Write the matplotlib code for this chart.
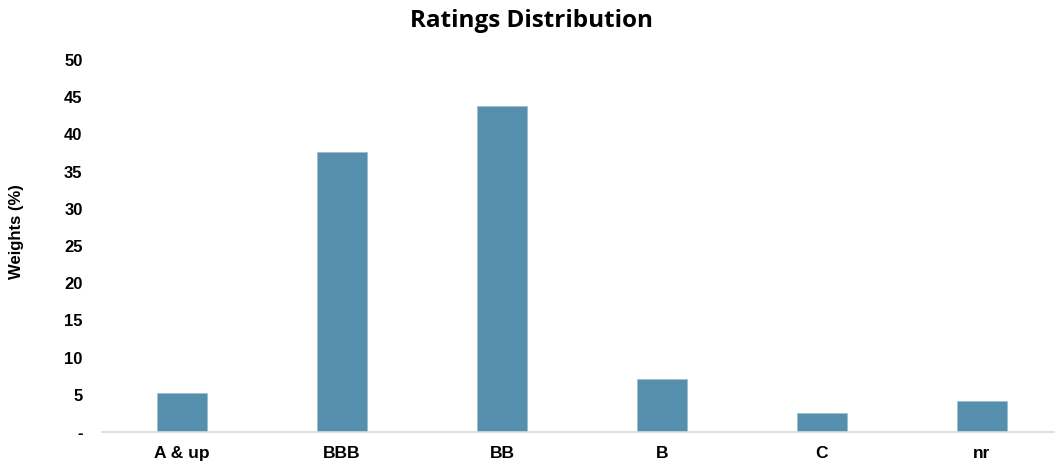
import matplotlib.pyplot as plt

ratings = ["A & up", "BBB", "BB", "B", "C", "nr"]
weights = [5.3, 37.6, 43.8, 7.1, 2.5, 4.1]
y_ticks = [0, 5, 10, 15, 20, 25, 30, 35, 40, 45, 50]
y_tick_labels = ["-", "5", "10", "15", "20", "25", "30", "35", "40", "45", "50"]

BAR_COLOR = "#568eae"


def main() -> None:
    fig = plt.figure(figsize=(10.55, 4.65), dpi=100)
    ax = fig.add_axes([102 / 1055, 33 / 465, 960 / 1055, 372 / 465])

    x = range(len(ratings))
    ax.bar(x, weights, width=0.31, color=BAR_COLOR, edgecolor="#9dbdd0", linewidth=0.6, zorder=2)

    ax.set_xlim(-0.5, len(ratings) - 0.5)
    ax.set_ylim(0, 50)
    ax.set_xticks(list(x))
    ax.set_xticklabels(ratings, family="Liberation Sans", fontweight="bold", fontsize=12.5)
    ax.set_yticks(y_ticks)
    ax.set_yticklabels(y_tick_labels, family="Liberation Sans", fontweight="bold", fontsize=12)
    ax.tick_params(axis="both", length=0)
    ax.tick_params(axis="y", pad=14)
    ax.tick_params(axis="x", pad=10)

    for side in ("top", "right", "left"):
        ax.spines[side].set_visible(False)
    ax.spines["bottom"].set_color("#d9d9d9")
    ax.spines["bottom"].set_linewidth(1.2)

    fig.text(17 / 1055, 1 - 232 / 465, "Weights (%)", rotation=90, ha="center", va="center",
             family="Liberation Sans", fontweight="bold", fontsize=12)
    fig.text(531 / 1055, 1 - 21 / 465, "Ratings Distribution", ha="center", va="center",
             family="Open Sans", fontweight="bold", fontsize=17.5)

    fig.savefig("out.png", dpi=100)


if __name__ == "__main__":
    main()
